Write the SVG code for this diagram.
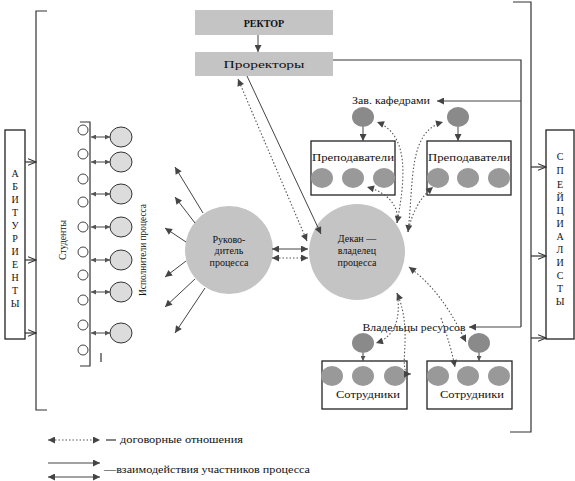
<svg xmlns="http://www.w3.org/2000/svg" width="575" height="481" viewBox="0 0 575 481" font-family="'Liberation Serif', 'Times New Roman', serif">
<style>
text{font-family:'Liberation Serif','Times New Roman',serif;fill:#111;font-size:10px}
.ln{stroke:#333;stroke-width:1.2;fill:none}
.ar{stroke:#444;stroke-width:1;fill:none}
.dt{stroke:#555;stroke-width:1.1;fill:none;stroke-dasharray:1.5,2}
.box{fill:#fff;stroke:#222;stroke-width:1.3}
.gb{fill:#c4c4c4}
.dk{fill:#8a8a8a}
.md{fill:#999}
.st{fill:#dcdcdc;stroke:#333;stroke-width:1}
.sm{fill:#fff;stroke:#444;stroke-width:1}
.big{fill:#c4c4c4}
.vt{font-size:10px;text-anchor:middle}
</style>
<defs>
<marker id="a" viewBox="0 0 10 10" refX="10" refY="5" markerWidth="8" markerHeight="7" orient="auto-start-reverse" markerUnits="userSpaceOnUse"><path d="M0,0 L10,5 L0,10 z" fill="#444"/></marker>
<marker id="s" viewBox="0 0 10 10" refX="10" refY="5" markerWidth="6" markerHeight="5" orient="auto-start-reverse" markerUnits="userSpaceOnUse"><path d="M0,0 L10,5 L0,10 z" fill="#555"/></marker>
<marker id="o" viewBox="0 0 10 10" refX="10" refY="5" markerWidth="9" markerHeight="8" orient="auto" markerUnits="userSpaceOnUse"><path d="M0,1 L10,5 L0,9" fill="none" stroke="#333" stroke-width="1.3"/></marker>
</defs>

<g id="left-bracket">
<path class="ln" d="M47,11 H36 V410 H47"/>
</g>
<g id="right-bracket">
<path class="ln" d="M513,2 H531 V432 H510"/>
<path class="ln" d="M333,60 H521 V327"/>
</g>

<g id="abiturienty">
<rect class="box" x="5" y="130" width="20" height="209"/>
<g class="vt">
<text x="15" y="177">А</text><text x="15" y="190">Б</text><text x="15" y="203">И</text><text x="15" y="216">Т</text><text x="15" y="229">У</text><text x="15" y="242">Р</text><text x="15" y="255">И</text><text x="15" y="268">Е</text><text x="15" y="281">Н</text><text x="15" y="294">Т</text><text x="15" y="307">Ы</text>
</g>
</g>

<g id="specialisty">
<rect class="box" x="546" y="130" width="28" height="209"/>
<g class="vt">
<text x="560" y="160">С</text><text x="560" y="174">П</text><text x="560" y="188">Е</text><text x="560" y="201">Й</text><text x="560" y="214">Ц</text><text x="560" y="227">И</text><text x="560" y="240">А</text><text x="560" y="253">Л</text><text x="560" y="266">И</text><text x="560" y="279">С</text><text x="560" y="292">Т</text><text x="560" y="305">Ы</text>
</g>
</g>

<g id="rektor">
<rect class="gb" x="195" y="10" width="138" height="25"/>
<text x="264" y="27" text-anchor="middle" font-weight="bold">РЕКТОР</text>
</g>
<g id="prorektory">
<rect class="gb" x="195" y="52" width="138" height="24"/>
<text x="264" y="68" text-anchor="middle" textLength="81" lengthAdjust="spacingAndGlyphs">Проректоры</text>
</g>

<g id="students">
<path class="ln" d="M80,122 H90 V366 H80"/>
<line class="ln" x1="101" y1="353" x2="101" y2="362"/>
<ellipse class="sm" cx="83" cy="130" rx="5" ry="5"/>
<ellipse class="sm" cx="83" cy="154" rx="5" ry="5"/>
<ellipse class="sm" cx="83" cy="179" rx="5" ry="5"/>
<ellipse class="sm" cx="83" cy="202" rx="5" ry="5"/>
<ellipse class="sm" cx="83" cy="227" rx="5" ry="5"/>
<ellipse class="sm" cx="83" cy="252" rx="5" ry="5"/>
<ellipse class="sm" cx="83" cy="275" rx="5" ry="5"/>
<ellipse class="sm" cx="83" cy="300" rx="5" ry="5"/>
<ellipse class="sm" cx="83" cy="325" rx="5" ry="5"/>
<ellipse class="sm" cx="83" cy="350" rx="5" ry="5"/>
<ellipse class="st" cx="121" cy="137" rx="11" ry="10"/>
<ellipse class="st" cx="121" cy="162" rx="11" ry="10"/>
<ellipse class="st" cx="121" cy="194" rx="11" ry="10"/>
<ellipse class="st" cx="121" cy="227" rx="11" ry="10"/>
<ellipse class="st" cx="121" cy="260" rx="11" ry="10"/>
<ellipse class="st" cx="121" cy="292" rx="11" ry="10"/>
<ellipse class="st" cx="121" cy="333" rx="11" ry="10"/>
<text transform="translate(66,240) rotate(-90)" text-anchor="middle" textLength="40" lengthAdjust="spacingAndGlyphs">Студенты</text>
<text transform="translate(146,250) rotate(-90)" text-anchor="middle" textLength="92" lengthAdjust="spacingAndGlyphs">Исполнители процесса</text>
</g>

<g id="rukovoditel">
<circle class="big" cx="229" cy="250" r="44"/>
<text x="229" y="243" text-anchor="middle">Руково-</text>
<text x="229" y="254" text-anchor="middle">дитель</text>
<text x="229" y="266" text-anchor="middle">процесса</text>
</g>

<g id="dekan">
<circle class="big" cx="357" cy="252" r="48"/>
<text x="357" y="242" text-anchor="middle">Декан —</text>
<text x="357" y="254" text-anchor="middle">владелец</text>
<text x="357" y="266" text-anchor="middle">процесса</text>
</g>

<g id="zav-kafedrami">
<text x="391" y="104" text-anchor="middle" textLength="78" lengthAdjust="spacingAndGlyphs">Зав. кафедрами</text>
<ellipse class="dk" cx="363" cy="117" rx="11" ry="10"/>
<ellipse class="dk" cx="458" cy="117" rx="11" ry="10"/>
</g>

<g id="prepodavateli-1">
<rect class="box" x="311" y="141" width="84" height="54"/>
<text x="353" y="161" text-anchor="middle" textLength="82" lengthAdjust="spacingAndGlyphs">Преподаватели</text>
<ellipse class="md" cx="322" cy="178" rx="11" ry="10"/>
<ellipse class="md" cx="353" cy="178" rx="11" ry="10"/>
<ellipse class="md" cx="384" cy="178" rx="11" ry="10"/>
</g>
<g id="prepodavateli-2">
<rect class="box" x="427" y="141" width="84" height="54"/>
<text x="469" y="161" text-anchor="middle" textLength="82" lengthAdjust="spacingAndGlyphs">Преподаватели</text>
<ellipse class="md" cx="438" cy="178" rx="11" ry="10"/>
<ellipse class="md" cx="468" cy="178" rx="11" ry="10"/>
<ellipse class="md" cx="499" cy="178" rx="11" ry="10"/>
</g>

<g id="vladelcy-resursov">
<text x="414" y="331" text-anchor="middle" textLength="103" lengthAdjust="spacingAndGlyphs">Владельцы ресурсов</text>
<ellipse class="dk" cx="363" cy="343" rx="11" ry="10"/>
<ellipse class="dk" cx="479" cy="343" rx="11" ry="10"/>
</g>

<g id="sotrudniki-1">
<rect class="box" x="322" y="361" width="85" height="48"/>
<ellipse class="md" cx="332" cy="376" rx="11" ry="10"/>
<ellipse class="md" cx="363" cy="376" rx="11" ry="10"/>
<ellipse class="md" cx="395" cy="376" rx="11" ry="10"/>
<text x="368" y="398" text-anchor="middle" textLength="64" lengthAdjust="spacingAndGlyphs">Сотрудники</text>
</g>
<g id="sotrudniki-2">
<rect class="box" x="427" y="361" width="85" height="48"/>
<ellipse class="md" cx="438" cy="376" rx="11" ry="10"/>
<ellipse class="md" cx="468" cy="376" rx="11" ry="10"/>
<ellipse class="md" cx="499" cy="376" rx="11" ry="10"/>
<text x="472" y="398" text-anchor="middle" textLength="64" lengthAdjust="spacingAndGlyphs">Сотрудники</text>
</g>

<g id="connectors">
<line class="ln" x1="25" y1="162" x2="36" y2="162" marker-end="url(#o)"/>
<line class="ln" x1="25" y1="260" x2="36" y2="260" marker-end="url(#o)"/>
<line class="ln" x1="25" y1="333" x2="36" y2="333" marker-end="url(#o)"/>
<line class="ln" x1="531" y1="167" x2="546" y2="167" marker-end="url(#o)"/>
<line class="ln" x1="531" y1="256" x2="546" y2="256" marker-end="url(#o)"/>
<line class="ln" x1="531" y1="338" x2="546" y2="338" marker-end="url(#o)"/>
<line class="ar" x1="521" y1="101" x2="437" y2="101" marker-end="url(#a)"/>
<line class="ar" x1="521" y1="327" x2="469" y2="327" marker-end="url(#a)"/>
<line class="ar" x1="258" y1="35" x2="258" y2="52" marker-end="url(#a)"/>
<line class="ar" x1="247" y1="76" x2="321" y2="234" marker-end="url(#a)"/>
<line class="dt" x1="307" y1="241" x2="238" y2="79" marker-start="url(#a)" marker-end="url(#a)"/>
<line class="ar" x1="272" y1="249" x2="308" y2="249" marker-start="url(#a)" marker-end="url(#a)"/>
<line class="dt" x1="272" y1="258" x2="308" y2="258" marker-start="url(#a)" marker-end="url(#a)"/>
<line class="ar" x1="203" y1="213" x2="175" y2="167" marker-end="url(#a)"/>
<line class="ar" x1="195" y1="223" x2="175" y2="197" marker-end="url(#a)"/>
<line class="ar" x1="186" y1="242" x2="165" y2="228" marker-end="url(#a)"/>
<line class="ar" x1="186" y1="261" x2="165" y2="277" marker-end="url(#a)"/>
<line class="ar" x1="195" y1="279" x2="165" y2="307" marker-end="url(#a)"/>
<line class="ar" x1="205" y1="288" x2="175" y2="333" marker-end="url(#a)"/>
<line class="ar" x1="91" y1="137" x2="110" y2="137" marker-start="url(#s)" marker-end="url(#s)"/>
<line class="ar" x1="91" y1="162" x2="110" y2="162" marker-start="url(#s)" marker-end="url(#s)"/>
<line class="ar" x1="91" y1="194" x2="110" y2="194" marker-start="url(#s)" marker-end="url(#s)"/>
<line class="ar" x1="91" y1="227" x2="110" y2="227" marker-start="url(#s)" marker-end="url(#s)"/>
<line class="ar" x1="91" y1="260" x2="110" y2="260" marker-start="url(#s)" marker-end="url(#s)"/>
<line class="ar" x1="91" y1="292" x2="110" y2="292" marker-start="url(#s)" marker-end="url(#s)"/>
<line class="ar" x1="91" y1="333" x2="110" y2="333" marker-start="url(#s)" marker-end="url(#s)"/>
<line class="ar" x1="363" y1="127" x2="363" y2="141" marker-end="url(#a)"/>
<line class="ar" x1="458" y1="127" x2="458" y2="141" marker-end="url(#a)"/>
<line class="ar" x1="363" y1="353" x2="363" y2="361" marker-end="url(#s)"/>
<line class="ar" x1="479" y1="353" x2="479" y2="361" marker-end="url(#s)"/>
<path class="dt" d="M397,223 C405,180 410,135 377,122" marker-start="url(#a)" marker-end="url(#a)"/>
<path class="dt" d="M408,232 C414,180 408,132 443,122" marker-start="url(#a)" marker-end="url(#a)"/>
<path class="dt" d="M397,223 C400,205 386,192 367,187" marker-end="url(#a)"/>
<path class="dt" d="M408,232 C412,212 420,198 433,187" marker-end="url(#a)"/>
<path class="dt" d="M397,293 C415,335 395,374 411,374" marker-start="url(#a)" marker-end="url(#a)"/>
<path class="dt" d="M397,293 C402,322 392,338 376,343" marker-end="url(#a)"/>
<path class="dt" d="M409,267 C440,290 455,320 466,342" marker-start="url(#a)" marker-end="url(#a)"/>
<path class="dt" d="M441,318 C448,338 452,352 455,367" marker-end="url(#a)"/>
</g>

<g id="legend">
<line class="dt" x1="48" y1="440" x2="100" y2="440" marker-start="url(#a)" marker-end="url(#a)"/>
<line class="ln" x1="106" y1="440" x2="116" y2="440"/>
<text x="120" y="443" textLength="123" lengthAdjust="spacingAndGlyphs">договорные отношения</text>
<line class="ar" x1="48" y1="463" x2="100" y2="463" marker-end="url(#a)"/>
<line class="ar" x1="48" y1="477" x2="100" y2="477" marker-start="url(#a)" marker-end="url(#a)"/>
<text x="104" y="473" textLength="206" lengthAdjust="spacingAndGlyphs">—взаимодействия участников процесса</text>
</g>
</svg>
